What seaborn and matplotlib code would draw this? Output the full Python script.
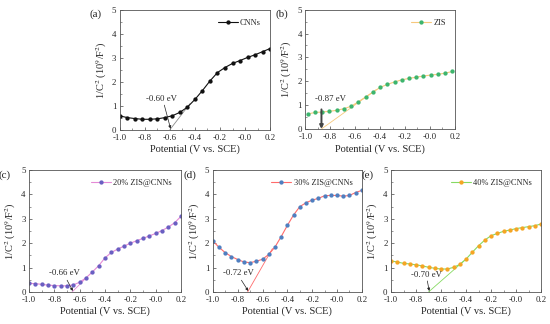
import numpy as np
import pandas as pd
import seaborn as sns
import matplotlib.pyplot as plt

# Mott-Schottky data
x_cnn = [-1.0, -0.94, -0.88, -0.82, -0.76, -0.70, -0.64, -0.58, -0.52, -0.46, -0.40,
         -0.34, -0.28, -0.22, -0.16, -0.10, -0.04, 0.02, 0.08, 0.14, 0.20]
y_cnn = [0.57, 0.50, 0.46, 0.43, 0.43, 0.45, 0.50, 0.58, 0.72, 0.94, 1.26,
         1.63, 2.03, 2.38, 2.59, 2.76, 2.88, 3.01, 3.12, 3.25, 3.38]

x_zis = [-0.98, -0.922, -0.864, -0.806, -0.748, -0.69, -0.632, -0.574, -0.516, -0.458, -0.40,
         -0.342, -0.284, -0.226, -0.168, -0.11, -0.052, 0.006, 0.064, 0.122, 0.18]
y_zis = [0.63, 0.69, 0.71, 0.74, 0.78, 0.85, 0.95, 1.14, 1.34, 1.54, 1.74,
         1.87, 1.97, 2.06, 2.12, 2.17, 2.22, 2.26, 2.29, 2.34, 2.41]

x_25 = [-1.0, -0.95, -0.9, -0.85, -0.8, -0.75, -0.7, -0.65, -0.6, -0.55, -0.5, -0.45, -0.4,
        -0.35, -0.3, -0.25, -0.2, -0.15, -0.1, -0.05, 0.0, 0.05, 0.1, 0.15, 0.2]
y_20 = [0.35, 0.34, 0.31, 0.28, 0.26, 0.25, 0.25, 0.29, 0.40, 0.58, 0.82, 1.08, 1.40,
        1.62, 1.76, 1.88, 2.00, 2.10, 2.20, 2.30, 2.40, 2.52, 2.66, 2.84, 3.10]
y_30 = [2.09, 1.83, 1.61, 1.45, 1.33, 1.23, 1.20, 1.26, 1.34, 1.54, 1.84, 2.27, 2.73,
        3.16, 3.50, 3.66, 3.77, 3.84, 3.95, 3.96, 3.96, 3.93, 3.96, 4.08, 4.17]
y_40 = [1.27, 1.23, 1.17, 1.15, 1.11, 1.07, 1.01, 0.97, 0.94, 0.94, 1.01, 1.13, 1.35,
        1.63, 1.90, 2.13, 2.31, 2.40, 2.49, 2.54, 2.60, 2.64, 2.68, 2.72, 2.79]

# flat-band potentials and tangent end points
efb = [-0.60, -0.87, -0.66, -0.72, -0.70]
tangent_end = [(-0.44, 1.08), (-0.43, 1.65), (-0.54, 0.62), (-0.52, 1.78), (-0.40, 1.35)]
labels = ['CNNs', 'ZIS', '20% ZIS@CNNs', '30% ZIS@CNNs', '40% ZIS@CNNs']
tags = ['(a)', '(b)', '(c)', '(d)', '(e)']
line_colors = ['#111111', '#F7C87C', '#E58AD6', '#FF6B6B', '#86DA62']
marker_colors = ['#111111', '#3DB56E', '#6A5FC2', '#4F7FC0', '#F5A524']
tangent_colors = ['#8A8A8A', '#F7C87C', '#E58AD6', '#FF6B6B', '#86DA62']
# text position (left, y) and arrow start for the eV notes
note_xy = [(-0.79, 1.1), (-0.92, 1.1), (-0.84, 0.62), (-0.92, 0.6), (-0.84, 0.55)]
arrow_from = [(-0.645, 1.02), (-0.87, 0.82), (-0.70, 0.48), (-0.77, 0.48), (-0.71, 0.45)]

series = [(x_cnn, y_cnn), (x_zis, y_zis), (x_25, y_20), (x_25, y_30), (x_25, y_40)]

sns.set_theme(style='ticks')
plt.rcParams['font.family'] = ['Liberation Serif', 'DejaVu Serif']
plt.rcParams['mathtext.fontset'] = 'stix'

fig = plt.figure(figsize=(5.5, 3.24), dpi=100)
boxes = [(0.218, 0.600, 0.273, 0.370),
         (0.555, 0.602, 0.272, 0.368),
         (0.053, 0.099, 0.276, 0.376),
         (0.387, 0.099, 0.271, 0.376),
         (0.711, 0.099, 0.273, 0.376)]

for i, box in enumerate(boxes):
    ax = fig.add_axes(box)
    xs, ys = series[i]
    df = pd.DataFrame({'Potential': xs, 'C': ys})
    sns.lineplot(data=df, x='Potential', y='C', ax=ax, color=line_colors[i], lw=0.8,
                 marker='o', markersize=3.1, markeredgewidth=0, markerfacecolor=marker_colors[i],
                 label=labels[i])
    # tangent line to the x axis
    ex, ey = tangent_end[i]
    ax.plot([efb[i], ex], [0, ey], color=tangent_colors[i], lw=0.6, zorder=1)
    if i == 1:
        ax.annotate('', xy=(efb[i], 0.0), xytext=arrow_from[i],
                    arrowprops=dict(arrowstyle='-|>', color='#444444', lw=1.4,
                                    mutation_scale=5, shrinkA=0, shrinkB=0))
    else:
        ax.annotate('', xy=(efb[i] + 0.005, 0.04), xytext=arrow_from[i],
                    arrowprops=dict(arrowstyle='-|>', color='#222222', lw=0.5,
                                    mutation_scale=4, shrinkA=0, shrinkB=0))
    ax.text(note_xy[i][0], note_xy[i][1], '%.2f eV' % efb[i], fontsize=6.3, ha='left', va='bottom')

    ax.set_xlim(-1.0, 0.2)
    ax.set_ylim(0, 5)
    ax.set_xticks(np.arange(-1.0, 0.21, 0.2))
    ax.set_xticklabels(['%.1f' % v for v in np.arange(-1.0, 0.21, 0.2)])
    ax.set_yticks(range(6))
    ax.set_xticks(np.arange(-1.0, 0.21, 0.1), minor=True)
    ax.set_yticks(np.arange(0, 5.01, 0.5), minor=True)
    ax.tick_params(direction='in', labelsize=6.3, length=2.5, width=0.5, color='#444444')
    ax.tick_params(axis='x', pad=3)
    ax.tick_params(axis='y', pad=2.5)
    ax.tick_params(which='minor', direction='in', length=1.3, width=0.4, color='#444444')
    for s in ax.spines.values():
        s.set_linewidth(0.6)
        s.set_color('#555555')
    ax.set_xlabel('Potential (V vs. SCE)', fontsize=7.5, labelpad=2)
    ax.set_ylabel(r'1/C$^2$ (10$^9$/F$^2$)', fontsize=7.5, labelpad=2)
    ax.legend(loc='upper right', frameon=False, fontsize=6, handlelength=2.4,
              handletextpad=0.3, borderaxespad=0.7)
    ax.text(-0.2, 1.0, tags[i], transform=ax.transAxes, fontsize=8, ha='left', va='top')

fig.savefig('out.png', dpi=100)
